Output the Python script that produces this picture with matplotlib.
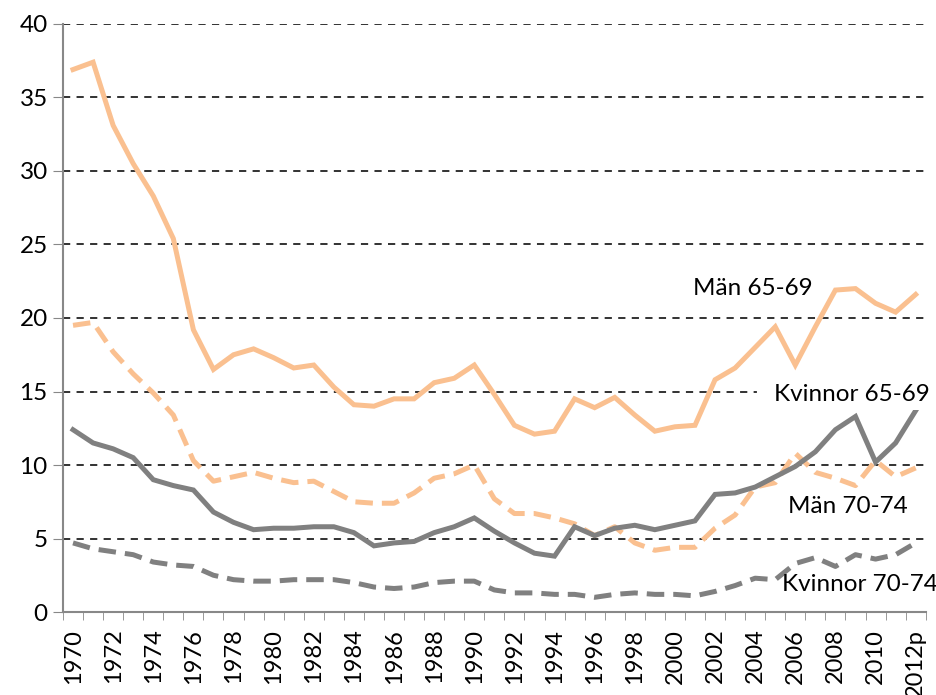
import matplotlib.pyplot as plt
import numpy as np

plt.rcParams['font.family'] = ['Lato', 'DejaVu Sans']

years = [str(y) for y in range(1970, 2012)] + ['2012p']

man_65_69 = [36.9, 37.4, 33.1, 30.5, 28.3, 25.4, 19.2, 16.5, 17.5, 17.9, 17.3,
             16.6, 16.8, 15.3, 14.1, 14.0, 14.5, 14.5, 15.6, 15.9, 16.8, 14.8,
             12.7, 12.1, 12.3, 14.5, 13.9, 14.6, 13.4, 12.3, 12.6, 12.7, 15.8,
             16.6, 18.0, 19.4, 16.8, 19.4, 21.9, 22.0, 21.0, 20.4, 21.6]
man_70_74 = [19.5, 19.7, 17.7, 16.2, 14.9, 13.4, 10.3, 8.9, 9.2, 9.5, 9.1,
             8.8, 8.9, 8.2, 7.5, 7.4, 7.4, 8.1, 9.1, 9.4, 10.0, 7.7,
             6.7, 6.7, 6.4, 6.0, 5.2, 5.8, 4.7, 4.2, 4.4, 4.4, 5.7,
             6.6, 8.5, 8.8, 10.8, 9.5, 9.1, 8.6, 10.3, 9.2, 9.8]
kv_65_69 = [12.4, 11.5, 11.1, 10.5, 9.0, 8.6, 8.3, 6.8, 6.1, 5.6, 5.7,
            5.7, 5.8, 5.8, 5.4, 4.5, 4.7, 4.8, 5.4, 5.8, 6.4, 5.5,
            4.7, 4.0, 3.8, 5.8, 5.2, 5.7, 5.9, 5.6, 5.9, 6.2, 8.0,
            8.1, 8.5, 9.2, 9.9, 10.9, 12.4, 13.3, 10.2, 11.5, 13.7]
kv_70_74 = [4.7, 4.3, 4.1, 3.9, 3.4, 3.2, 3.1, 2.5, 2.2, 2.1, 2.1,
            2.2, 2.2, 2.2, 2.0, 1.7, 1.6, 1.7, 2.0, 2.1, 2.1, 1.5,
            1.3, 1.3, 1.2, 1.2, 1.0, 1.2, 1.3, 1.2, 1.2, 1.1, 1.4,
            1.8, 2.3, 2.2, 3.3, 3.7, 3.1, 3.9, 3.6, 3.9, 4.7]

orange = '#FAC090'
grey = '#808080'

fig = plt.figure(figsize=(9.36, 6.95), dpi=100)
ax = fig.add_axes([0.0673, 0.1194, 0.9217, 0.8461])

x = np.arange(len(years))
lw = 3.6
ax.plot(x, man_65_69, color=orange, lw=lw, solid_joinstyle='miter', zorder=3)
ax.plot(x, man_70_74, color=orange, lw=lw, ls=(0, (3.5, 1.8)), zorder=3)
ax.plot(x, kv_65_69, color=grey, lw=lw, solid_joinstyle='miter', zorder=3)
ax.plot(x, kv_70_74, color=grey, lw=lw, ls=(0, (3.5, 1.8)), zorder=3)

ax.set_xlim(-0.5, len(years) - 0.5)
ax.set_ylim(0, 40)
ax.set_yticks(np.arange(0, 41, 5))
ax.tick_params(axis='y', labelsize=17.5, length=7, color='#888888', pad=4)

ax.set_xticks(x[::2])
ax.set_xticklabels(years[::2], rotation=90, fontsize=17)
ax.set_xticks(np.arange(-0.5, len(years), 1), minor=True)
ax.tick_params(axis='x', which='major', length=0, pad=12)
ax.tick_params(axis='x', which='minor', length=6, color='#888888')

for y in range(5, 41, 5):
    ax.axhline(y, color='#222222', lw=1.3, ls=(0, (4, 3.5)), zorder=1)

for side in ['top', 'right']:
    ax.spines[side].set_visible(False)
for side in ['left', 'bottom']:
    ax.spines[side].set_color('#888888')
    ax.spines[side].set_linewidth(1.5)

fs = 17.5
ax.text(33.9, 22.0, 'Män 65-69', fontsize=fs, ha='center', va='center', zorder=4)
ax.text(42.7, 14.8, 'Kvinnor 65-69', fontsize=fs, ha='right', va='center', zorder=4,
        bbox=dict(facecolor='white', edgecolor='none', boxstyle='square,pad=0.2'))
ax.text(38.6, 7.2, 'Män 70-74', fontsize=fs, ha='center', va='center', zorder=4)
ax.text(39.2, 1.9, 'Kvinnor 70-74', fontsize=fs, ha='center', va='center', zorder=4)
# label box in the source also hides the grid line left of the text
ax.plot([34.2, 42.5], [15, 15], color='white', lw=3, zorder=2)

plt.savefig('out.png', dpi=100)
